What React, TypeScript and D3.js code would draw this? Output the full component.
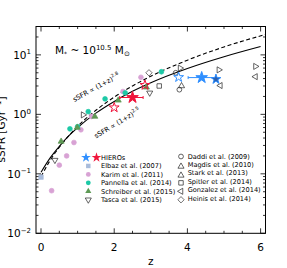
import React from "react";
import * as d3 from "d3";

// values
const curveZ = [0, 0.25, 0.5, 0.75, 1, 1.5, 2, 2.5, 3, 4, 5, 6];
const solidVals = [0.106, 0.185, 0.29, 0.43, 0.6, 1.05, 1.65, 2.44, 3.4, 5.9, 9.3, 13.8];
const dashZ = [0, 0.25, 0.5, 0.75, 1, 1.5, 2, 2.5, 3, 4, 5, 6.13];
const dashVals = [0.09, 0.168, 0.28, 0.43, 0.63, 1.17, 1.95, 3.0, 4.37, 8.15, 13.6, 22];

const hieroBlueOpen = [{ z: 3.76, v: 4.2 }];
const hieroBlueFilled = [{ z: 4.39, v: 4.15, lo: 4.02, hi: 4.77 }];
const hieroDark = [{ z: 4.78, v: 3.9 }];
const hieroRedOpen = [{ z: 2.0, v: 1.3 }, { z: 2.84, v: 3.1 }];
const hieroRedFilled = [{ z: 2.5, v: 1.92, lo: 2.15, hi: 2.79 }];

const elbaz = [{ z: 0, v: 0.088 }];
const karim = [
  { z: 0.29, v: 0.052 }, { z: 0.5, v: 0.14 }, { z: 0.7, v: 0.2 }, { z: 0.9, v: 0.336 },
  { z: 1.09, v: 0.55 }, { z: 1.38, v: 0.92 }, { z: 2.24, v: 2.42 }, { z: 2.73, v: 4.2 },
];
const pannella = [
  { z: 0.79, v: 0.57 }, { z: 1.0, v: 0.62 }, { z: 1.29, v: 1.11 }, { z: 1.75, v: 1.82 },
  { z: 2.3, v: 2.3 }, { z: 3.29, v: 5.2 },
];
const schreiber = [
  { z: 0.55, v: 0.35 }, { z: 0.99, v: 0.6 }, { z: 1.47, v: 0.92 }, { z: 2.11, v: 1.72 },
  { z: 2.88, v: 2.85 },
];
const tasca = [{ z: 0.38, v: 0.17 }, { z: 2.97, v: 2.3 }];
const daddi = [{ z: 3.68, v: 5.0 }, { z: 3.78, v: 2.6 }];
const magdis = [{ z: 3.84, v: 3.0 }];
const stark = [{ z: 1.15, v: 0.98 }, { z: 3.8, v: 6.0 }, { z: 4.86, v: 5.6 }, { z: 5.86, v: 6.4 }];
const spitler = [{ z: 3.23, v: 3.0 }];
const gonzalez = [{ z: 4.9, v: 3.05 }, { z: 5.86, v: 4.3 }];
const heinis = [{ z: 2.95, v: 5.0 }];

const xMajor = [0, 2, 4, 6];
const yMajor = [0.01, 0.1, 1, 10];
const yExp = ["−2", "−1", "0", "1"];
const legendLeft = [
  "HIEROs",
  "Elbaz et al. (2007)",
  "Karim et al. (2011)",
  "Pannella et al. (2014)",
  "Schreiber et al. (2015)",
  "Tasca et al. (2015)",
];
const legendRight = [
  "Daddi et al. (2009)",
  "Magdis et al. (2010)",
  "Stark et al. (2013)",
  "Spitler et al. (2014)",
  "Gonzalez et al. (2014)",
  "Heinis et al. (2014)",
];

const BLUE = "#2f8fff";
const RED = "#f0163c";
const FONT = "DejaVu Sans, sans-serif";

const x = d3.scaleLinear().domain([-0.137, 6.134]).range([36, 265.5]);
const y = d3.scaleLog().domain([0.01, 30]).range([233.3, 26.5]);

const sym = (type: d3.SymbolType, size: number) => d3.symbol().type(type).size(size)() as string;
const starBig = sym(d3.symbolStar, 42);
const starMid = sym(d3.symbolStar, 30);
const tri = sym(d3.symbolTriangle, 16);
const circ = sym(d3.symbolCircle, 18);
const sq = sym(d3.symbolSquare, 20);

type P = { z: number; v: number };

const Marks = ({ data, d, fill, stroke, rot = 0, sw = 0.7 }: { data: P[]; d: string; fill: string; stroke: string; rot?: number; sw?: number }) => (
  <g>
    {data.map((p, i) => (
      <path key={i} d={d} transform={`translate(${x(p.z)},${y(p.v)}) rotate(${rot})`} fill={fill} stroke={stroke} strokeWidth={sw} />
    ))}
  </g>
);

export default function App() {
  const xMinor = d3.range(0, 6.01, 0.5);
  const yMinor: number[] = [];
  [0.01, 0.1, 1, 10].forEach((b) => d3.range(2, 10).forEach((k) => b * k <= 30 && yMinor.push(b * k)));
  const solid = d3.line<number>().x((_, i) => x(curveZ[i])).y((v) => y(v)).curve(d3.curveMonotoneX)(solidVals);
  const dashed = d3.line<number>().x((_, i) => x(dashZ[i])).y((v) => y(v)).curve(d3.curveMonotoneX)(dashVals);
  const rowY = (i: number) => 159.5 + i * 8.45;

  return (
    <svg width={287} height={268} style={{ position: "absolute", left: 0, top: 0 }} fontFamily={FONT}>
      <rect width={287} height={268} fill="white" />
      {/* curves */}
      <path d={solid || ""} fill="none" stroke="#000" strokeWidth={1.1} />
      <path d={dashed || ""} fill="none" stroke="#000" strokeWidth={1.1} strokeDasharray="4,2.5" />

      {/* literature points */}
      <Marks data={elbaz} d={sq} fill="#a9bcdb" stroke="#a9bcdb" />
      <Marks data={karim} d={circ} fill="#d8a2d4" stroke="#d8a2d4" />
      <Marks data={pannella} d={circ} fill="#1cc9a6" stroke="#1cc9a6" />
      <Marks data={schreiber} d={tri} fill="#5e9a55" stroke="#5e9a55" />
      <Marks data={tasca} d={tri} fill="none" stroke="#222" rot={180} />
      <Marks data={daddi} d={circ} fill="none" stroke="#222" />
      <Marks data={magdis} d={tri} fill="none" stroke="#222" />
      <Marks data={stark} d={tri} fill="none" stroke="#222" rot={90} />
      <Marks data={spitler} d={sq} fill="none" stroke="#222" />
      <Marks data={gonzalez} d={tri} fill="none" stroke="#222" rot={-90} />
      <Marks data={heinis} d={sq} fill="none" stroke="#222" rot={45} sw={0.6} />

      {/* HIEROs */}
      {[...hieroBlueFilled.map((p) => ({ ...p, c: BLUE })), ...hieroRedFilled.map((p) => ({ ...p, c: RED }))].map((p, i) => (
        <g key={i} stroke={p.c} strokeWidth={1}>
          <line x1={x(p.lo)} x2={x(p.hi)} y1={y(p.v)} y2={y(p.v)} />
          <line x1={x(p.lo)} x2={x(p.lo)} y1={y(p.v) - 1.5} y2={y(p.v) + 1.5} />
          <line x1={x(p.hi)} x2={x(p.hi)} y1={y(p.v) - 1.5} y2={y(p.v) + 1.5} />
          <path d={starBig} transform={`translate(${x(p.z)},${y(p.v)})`} fill={p.c} />
        </g>
      ))}
      <Marks data={hieroBlueOpen} d={starMid} fill="none" stroke={BLUE} sw={1} />
      <Marks data={hieroRedOpen} d={starMid} fill="none" stroke={RED} sw={1} />
      <Marks data={hieroDark} d={starMid} fill="#2c5fae" stroke={BLUE} sw={1} />

      {/* annotations */}
      <text x={55} y={54} fontSize={10.5}>
        M<tspan fontSize={6} dy={2}>*</tspan>
        <tspan dy={-2}> ~ 10</tspan>
        <tspan fontSize={7} dy={-4.5}>10.5</tspan>
        <tspan dy={4.5}> M</tspan>
        <tspan fontSize={7} dy={2}>⊙</tspan>
      </text>
      <text transform="translate(74.5,102) rotate(-29)" fontSize={6.8}>
        sSFR ∝ (1+z)<tspan fontSize={4.8} dy={-3}>2.8</tspan>
      </text>
      <text transform="translate(96,138.5) rotate(-31)" fontSize={6.8}>
        sSFR ∝ (1+z)<tspan fontSize={4.8} dy={-3}>2.5</tspan>
      </text>

      {/* legend */}
      <g fontSize={6.6}>
        <path d={starMid} transform={`translate(86,${rowY(0) - 2})`} fill={BLUE} />
        <path d={starMid} transform={`translate(96.5,${rowY(0) - 2})`} fill={RED} />
        <path d={sq} transform={`translate(88.3,${rowY(1) - 2})`} fill="#a9bcdb" />
        <path d={circ} transform={`translate(88.3,${rowY(2) - 2})`} fill="#d8a2d4" />
        <path d={circ} transform={`translate(88.3,${rowY(3) - 2})`} fill="#1cc9a6" />
        <path d={tri} transform={`translate(88.3,${rowY(4) - 2})`} fill="#5e9a55" />
        <path d={tri} transform={`translate(88.3,${rowY(5) - 2}) rotate(180)`} fill="none" stroke="#222" strokeWidth={0.7} />
        {legendLeft.map((t, i) => (
          <text key={t} x={i === 0 ? 101 : 101} y={rowY(i) + 0.3}>{t}</text>
        ))}
        <path d={circ} transform={`translate(181,${rowY(0) - 3})`} fill="none" stroke="#222" strokeWidth={0.7} />
        <path d={tri} transform={`translate(181,${rowY(1) - 1.5})`} fill="none" stroke="#222" strokeWidth={0.7} />
        <path d={tri} transform={`translate(181,${rowY(2) - 1})`} fill="none" stroke="#222" strokeWidth={0.7} transform-origin="0 0" />
        <path d={sq} transform={`translate(181,${rowY(3) - 2})`} fill="none" stroke="#222" strokeWidth={0.7} />
        <path d={tri} transform={`translate(181,${rowY(4) - 2}) rotate(-90)`} fill="none" stroke="#222" strokeWidth={0.7} />
        <path d={sq} transform={`translate(181,${rowY(5) - 2}) rotate(45)`} fill="none" stroke="#222" strokeWidth={0.6} />
        {legendRight.map((t, i) => (
          <text key={t} x={187.7} y={rowY(i) - 1}>{t}</text>
        ))}
      </g>

      {/* frame and ticks */}
      <rect x={36} y={26.5} width={229.5} height={206.8} fill="none" stroke="#000" strokeWidth={1} />
      <g stroke="#000" strokeWidth={0.8}>
        {xMinor.map((t) => {
          const len = xMajor.includes(t) ? 5 : 2.5;
          return (
            <g key={t}>
              <line x1={x(t)} x2={x(t)} y1={233.3} y2={233.3 - len} />
              <line x1={x(t)} x2={x(t)} y1={26.5} y2={26.5 + len} />
            </g>
          );
        })}
        {[...yMajor, ...yMinor].map((t, i) => {
          const len = i < yMajor.length ? 5 : 2.5;
          return (
            <g key={i}>
              <line x1={36} x2={36 + len} y1={y(t)} y2={y(t)} />
              <line x1={265.5} x2={265.5 - len} y1={y(t)} y2={y(t)} />
            </g>
          );
        })}
      </g>
      <g fontSize={10.5}>
        {xMajor.map((t) => (
          <text key={t} x={x(t)} y={251} textAnchor="middle">{t}</text>
        ))}
        {yMajor.map((t, i) => (
          <text key={t} x={31} y={y(t) + 4} textAnchor="end">
            10<tspan fontSize={7} dy={-4.5}>{yExp[i]}</tspan>
          </text>
        ))}
        <text x={150.7} y={265} textAnchor="middle">z</text>
        <text transform="translate(4.5,129.5) rotate(-90)" textAnchor="middle">
          sSFR [Gyr<tspan fontSize={7} dy={-4}>−1</tspan><tspan dy={4}>]</tspan>
        </text>
      </g>
    </svg>
  );
}
